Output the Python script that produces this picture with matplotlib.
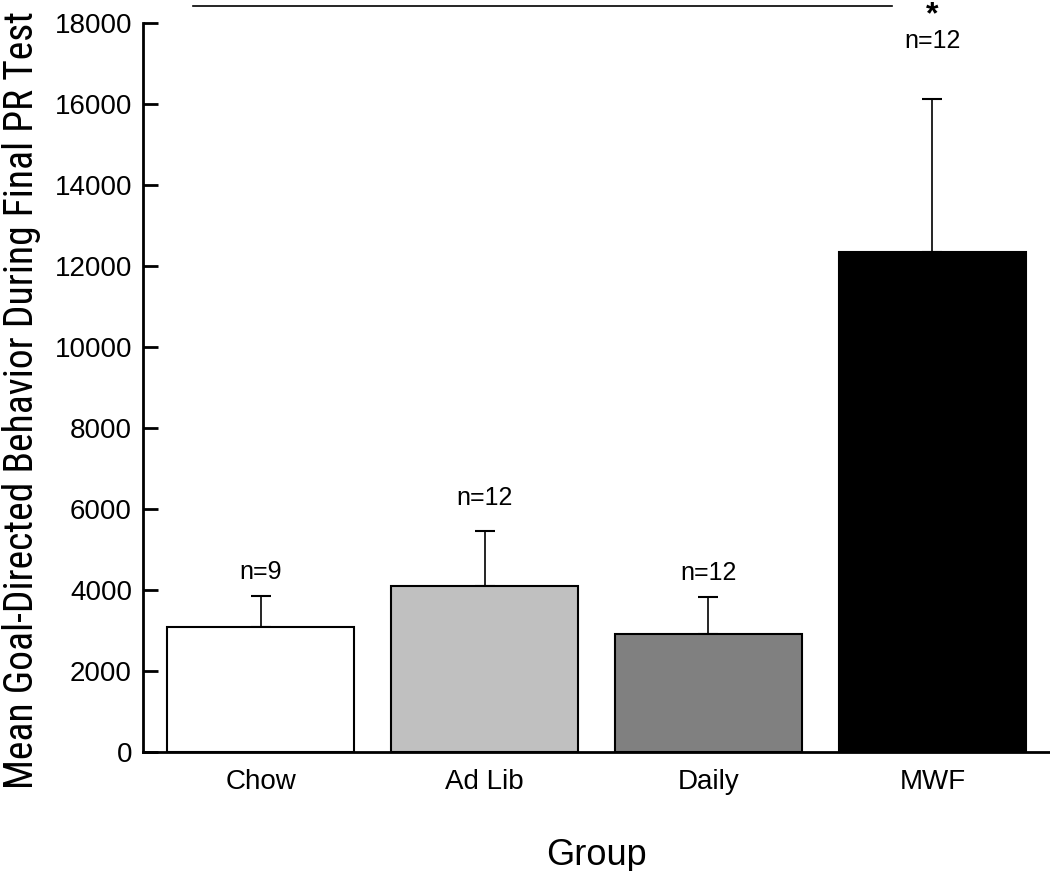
import matplotlib.pyplot as plt

plt.rcParams['font.family'] = ['Liberation Sans', 'DejaVu Sans']

groups = ['Chow', 'Ad Lib', 'Daily', 'MWF']
means = [3090, 4100, 2915, 12340]
sems = [770, 1360, 915, 3780]
n_labels = ['n=9', 'n=12', 'n=12', 'n=12']
bar_colors = ['white', '#c0c0c0', '#808080', 'black']
label_offsets = [17, 24, 17, 42]   # points above the error cap

fig = plt.figure(figsize=(10.5, 8.71), dpi=100)
ax = fig.add_axes([0.1362, 0.1366, 0.8638, 0.837])

x = range(len(groups))
ax.bar(x, means, width=0.835, color=bar_colors, edgecolor='black', linewidth=1.5, zorder=2)
ax.errorbar(x, means, yerr=[[0] * len(sems), sems], fmt='none', ecolor='black',
            elinewidth=1.2, capsize=7, capthick=1.5, zorder=1)

# n labels above error bars
for xi, m, s, lab, off in zip(x, means, sems, n_labels, label_offsets):
    ax.annotate(lab, (xi, m + s), xytext=(0, off), textcoords='offset points',
                ha='center', va='center', fontsize=18)

# significance line and star
ax.plot([-0.30, 2.82], [18420, 18420], color='black', lw=1.2, clip_on=False)
ax.text(3, 18180, '*', ha='center', va='center', fontsize=23, fontweight='bold', clip_on=False)

ax.set_xlim(-0.525, 3.525)
ax.set_ylim(0, 18000)
ax.set_yticks(range(0, 18001, 2000))
ax.set_xticks(list(x))
ax.set_xticklabels(groups)

for side in ['top', 'right']:
    ax.spines[side].set_visible(False)
for side in ['left', 'bottom']:
    ax.spines[side].set_linewidth(2)

ax.tick_params(axis='y', direction='in', length=11, width=2, labelsize=20, pad=8)
ax.tick_params(axis='x', length=0, labelsize=20, pad=12)

ax.set_ylabel('Mean Goal-Directed Behavior During Final PR Test', fontsize=28.5,
              family=['Roboto Condensed', 'Liberation Sans Narrow', 'Liberation Sans'])
ax.set_xlabel('Group', fontsize=26)
ax.yaxis.set_label_coords(-0.113, 0.483)
ax.xaxis.set_label_coords(0.5, -0.118)

fig.savefig('out.png', dpi=100)
